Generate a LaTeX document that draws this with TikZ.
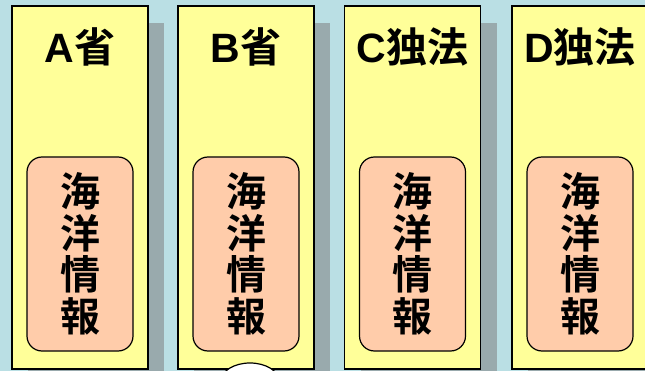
\documentclass[tikz,border=0pt]{standalone}
\usepackage{fontspec}
\setmainfont{Noto Sans CJK JP}[BoldFont={Noto Sans CJK JP Bold}]
\newfontfamily\latinfont{Liberation Sans}
\usetikzlibrary{shapes.geometric, shadows, positioning}

\definecolor{seabg}{RGB}{186,223,228}
\definecolor{colyellow}{RGB}{255,255,153}
\definecolor{infopeach}{RGB}{255,204,170}
\definecolor{shadegray}{RGB}{153,170,173}

\newcommand{\lat}[1]{{\latinfont\bfseries #1}}

\begin{document}
\begin{tikzpicture}[
    x=1pt, y=-1pt,
    column/.style={rectangle, draw, line width=1.6pt, fill=colyellow, minimum width=136pt, minimum height=363pt,
        general shadow={fill=shadegray, shadow xshift=16pt, shadow yshift=-17pt}},
    title/.style={inner sep=0pt, font=\bfseries\fontsize{41}{44}\selectfont},
    info/.style={rectangle, draw, line width=1.2pt, rounded corners=15pt, fill=infopeach, minimum width=106pt, minimum height=194pt,
        align=center, inner sep=0pt, font=\bfseries\fontsize{40}{41.5}\selectfont}
]

% background
\fill[seabg] (0,0) rectangle (645,371);
\useasboundingbox (0,0) rectangle (645,371);

% organisations
\node[column] (colA) at (80,187.5) {};
\node[column] (colB) at (246,187.5) {};
\node[column] (colC) at (412.5,187.5) {};
\node[column] (colD) at (580,187.5) {};

\node[title] (titleA) at (80,47) {\lat{A}省};
\node[title] (titleB) at (246,47) {\lat{B}省};
\node[title] (titleC) at (412.5,47) {\lat{C}独法};
\node[title] (titleD) at (580,47) {\lat{D}独法};

% ocean information held by each
\node[info] (infoA) at (80,254) {海\\洋\\情\\報};
\node[info] (infoB) at (246,254) {海\\洋\\情\\報};
\node[info] (infoC) at (412.5,254) {海\\洋\\情\\報};
\node[info] (infoD) at (580,254) {海\\洋\\情\\報};

% shape cut off at the bottom
\node[ellipse, draw, line width=1.2pt, fill=white, minimum width=58pt, minimum height=36pt] (blob) at (250,381) {};

\end{tikzpicture}
\end{document}
